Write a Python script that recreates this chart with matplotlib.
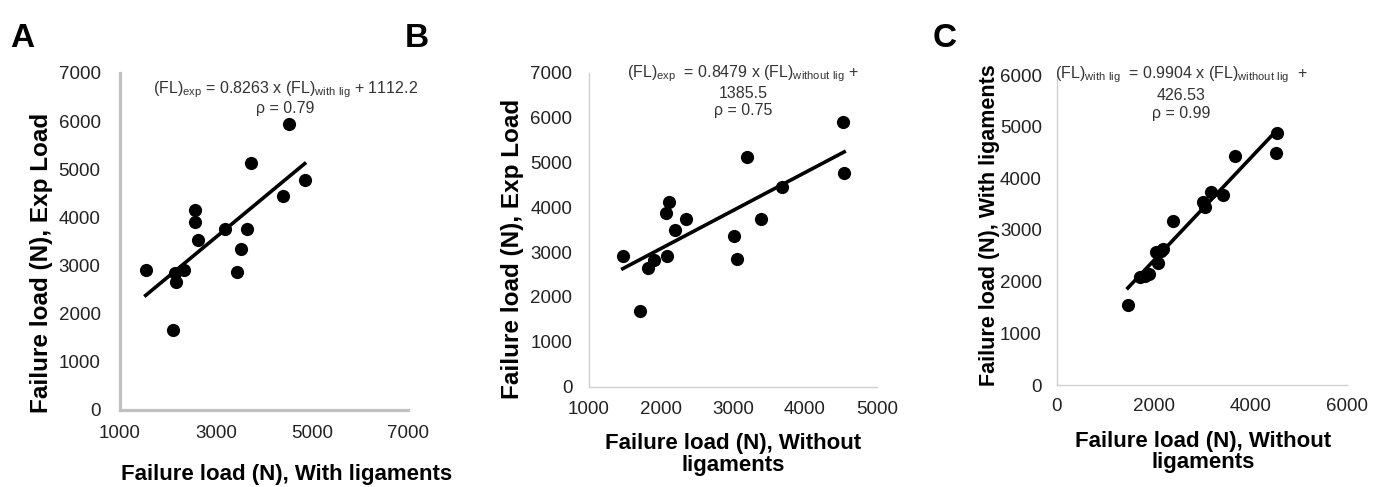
import numpy as np
import matplotlib
matplotlib.use("Agg")
import matplotlib.pyplot as plt

plt.rcParams['font.family'] = ['Liberation Sans', 'DejaVu Sans']
plt.rcParams['mathtext.default'] = 'regular'

# Panel A: with ligaments vs experimental load
a_x = [1535, 2098, 2167, 2146, 2333, 2562, 2562, 2618, 3188, 3646, 3521,
       3444, 3722, 4403, 4514, 4847]
a_y = [2917, 1667, 2653, 2847, 2917, 4146, 3910, 3521, 3750, 3750, 3347,
       2861, 5132, 4444, 5931, 4778]
a_fit = (0.8263, 1112.2)

# Panel B: without ligaments vs experimental load
b_x = [1469, 1711, 1818, 1896, 2064, 2115, 2083, 2199, 2352, 3017, 3049,
       3198, 3383, 3680, 4522, 4544]
b_y = [2920, 1692, 2638, 2824, 3880, 4125, 2920, 3493, 3739, 3359, 2853,
       5130, 3739, 4446, 5897, 4765]
b_fit = (0.8479, 1385.5)

# Panel C: without ligaments vs with ligaments
c_x = [1466, 1708, 1820, 1895, 2089, 2054, 2150, 2193, 2400, 3022, 3056,
       3195, 3430, 3693, 4523, 4544]
c_y = [1547, 2083, 2110, 2141, 2354, 2567, 2600, 2625, 3179, 3547, 3449,
       3727, 3669, 4435, 4500, 4868]
c_fit = (0.9904, 426.53)

fig = plt.figure(figsize=(13.84, 4.87), dpi=100)
W, H = 1384, 487


def make_ax(left, right, top, bottom):
    return fig.add_axes([left / W, 1 - bottom / H, (right - left) / W,
                         (bottom - top) / H])


def panel(ax, x, y, fit, spine_w, spine_c, xpad, ypad):
    ax.scatter(x, y, s=90, color="black", zorder=3, linewidths=0)
    xs = np.array([min(x), max(x)])
    ax.plot(xs, fit[0] * xs + fit[1], color="black", lw=2.6, zorder=2)
    for s in ["top", "right"]:
        ax.spines[s].set_visible(False)
    for s in ["left", "bottom"]:
        ax.spines[s].set_linewidth(spine_w)
        ax.spines[s].set_color(spine_c)
    ax.tick_params(length=0, labelsize=13.5, colors="#222222")
    ax.tick_params(axis="x", pad=xpad)
    ax.tick_params(axis="y", pad=ypad)


ann = dict(ha="center", va="top", fontsize=11.5, color="#333333")
lab = dict(ha="center", va="center", fontweight="bold")

axA = make_ax(120, 408, 73, 410)
panel(axA, a_x, a_y, a_fit, 2.3, "#c0c0c0", 11, 14)
axA.set_xlim(1000, 7000)
axA.set_ylim(0, 7000)
axA.set_xticks([1000, 3000, 5000, 7000])
axA.set_yticks(range(0, 7001, 1000))
axA.text(0.573, 0.98, "(FL)$_{exp}$ = 0.8263 x (FL)$_{with\\ lig}$ + 1112.2\nρ = 0.79",
         transform=axA.transAxes, linespacing=1.05, **ann)
axA.text(0.58, -0.19, "Failure load (N), With ligaments", transform=axA.transAxes,
         fontsize=16, **lab)
axA.text(-0.271, 0.436, "Failure load (N), Exp Load", transform=axA.transAxes,
         rotation=90, fontsize=17.5, **lab)

axB = make_ax(589, 877, 73, 386.5)
panel(axB, b_x, b_y, b_fit, 1.0, "#d0d0d0", 10.5, 12)
axB.set_xlim(1000, 5000)
axB.set_ylim(0, 7000)
axB.set_xticks(range(1000, 5001, 1000))
axB.set_yticks(range(0, 7001, 1000))
axB.text(0.535, 1.03,
         "(FL)$_{exp}$  = 0.8479 x (FL)$_{without\\ lig}$ +\n1385.5\nρ = 0.75",
         transform=axB.transAxes, linespacing=1.15, **ann)
axB.text(0.5, -0.218, "Failure load (N), Without\nligaments", transform=axB.transAxes,
         fontsize=16, linespacing=1.05, **lab)
axB.text(-0.264, 0.439, "Failure load (N), Exp Load", transform=axB.transAxes,
         rotation=90, fontsize=17.5, **lab)

axC = make_ax(1057, 1347, 75, 385)
panel(axC, c_x, c_y, c_fit, 1.0, "#d0d0d0", 9.5, 11)
axC.set_xlim(0, 6000)
axC.set_ylim(0, 6000)
axC.set_xticks(range(0, 6001, 2000))
axC.set_yticks(range(0, 6001, 1000))
axC.text(0.428, 1.035,
         "(FL)$_{with\\ lig}$  = 0.9904 x (FL)$_{without\\ lig}$  +\n426.53\nρ = 0.99",
         transform=axC.transAxes, linespacing=1.25, **ann)
axC.text(0.503, -0.216, "Failure load (N), Without\nligaments", transform=axC.transAxes,
         fontsize=16, linespacing=1.05, **lab)
axC.text(-0.232, 0.516, "Failure load (N), With ligaments", transform=axC.transAxes,
         rotation=90, fontsize=15.5, **lab)

for letter, px in [("A", 10), ("B", 405), ("C", 933)]:
    fig.text(px / W, 1 - 47 / H, letter, fontsize=24, fontweight="bold",
             ha="left", va="baseline")

fig.savefig("out.png", dpi=100)
